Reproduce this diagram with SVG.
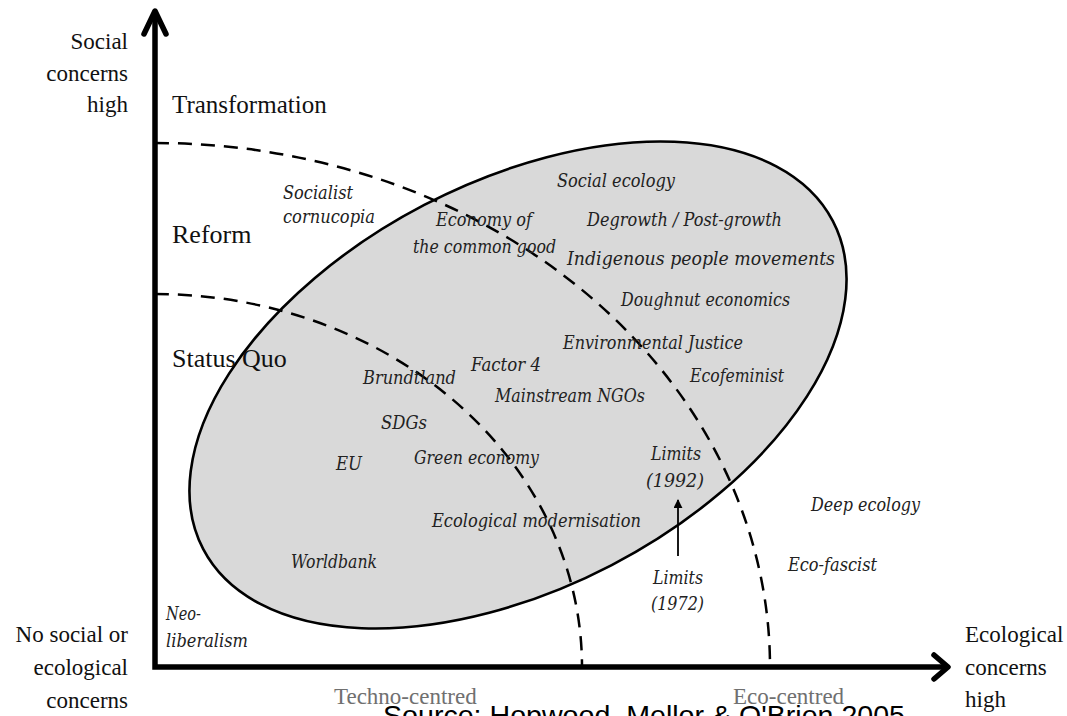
<svg xmlns="http://www.w3.org/2000/svg" width="1067" height="716" viewBox="0 0 1067 716">
<style>
.ax{fill:none;stroke:#000;stroke-width:5.5;stroke-linecap:butt}
.ah{fill:none;stroke:#000;stroke-width:5.5;stroke-linecap:round;stroke-linejoin:round}
.dash{fill:none;stroke:#000;stroke-width:2.5;stroke-dasharray:14 9}
.reg{font-family:"Liberation Serif","Times New Roman",serif;fill:#111}
.it{font-family:"DejaVu Serif","Liberation Serif",serif;font-style:italic;font-size:18px;fill:#222}
.gray{font-family:"Liberation Serif","Times New Roman",serif;font-size:23px;fill:#707070}
</style>
<defs>
<marker id="tri" viewBox="0 0 10 10" refX="9" refY="5" markerWidth="9" markerHeight="9" markerUnits="userSpaceOnUse" orient="auto">
<path d="M0,0 L10,5 L0,10 z" fill="#000"/>
</marker>
</defs>
<rect width="1067" height="716" fill="#fff"/>

<g id="ellipse">
<ellipse cx="518" cy="385" rx="355" ry="203" transform="rotate(-27.5 518 385)" fill="#d9d9d9" stroke="#000" stroke-width="2.6"/>
</g>

<g id="connectors">
<path class="dash" d="M155,143 A615,524 0 0 1 770,667"/>
<path class="dash" d="M155,294 A427,373 0 0 1 582,667"/>
<path class="ax" d="M155,14 V667 H946"/>
<path class="ah" d="M144,34 L155,11 L166,34"/>
<path class="ah" d="M934,655 L948,667 L934,679"/>
<line x1="678" y1="556" x2="678" y2="500" stroke="#000" stroke-width="1.8" marker-end="url(#tri)"/>
</g>

<g id="axis-labels">
<text class="reg" font-size="23" text-anchor="end" x="128" y="49">Social</text>
<text class="reg" font-size="23" text-anchor="end" x="128" y="81">concerns</text>
<text class="reg" font-size="23" text-anchor="end" x="128" y="112">high</text>
<text class="reg" font-size="23" text-anchor="end" x="128" y="642">No social or</text>
<text class="reg" font-size="23" text-anchor="end" x="128" y="675">ecological</text>
<text class="reg" font-size="23" text-anchor="end" x="128" y="708">concerns</text>
<text class="reg" font-size="23" x="965" y="642">Ecological</text>
<text class="reg" font-size="23" x="965" y="675">concerns</text>
<text class="reg" font-size="23" x="965" y="707">high</text>
<text class="gray" x="334" y="704">Techno-centred</text>
<text class="gray" x="733" y="704">Eco-centred</text>
</g>

<g id="zones">
<text class="reg" font-size="25" x="172" y="113">Transformation</text>
<text class="reg" font-size="26" x="172" y="243">Reform</text>
<text class="reg" font-size="26" x="172" y="367">Status Quo</text>
</g>

<g id="positions">
<text class="it" x="283" y="199" textLength="70" lengthAdjust="spacingAndGlyphs">Socialist</text>
<text class="it" x="283" y="223" textLength="92" lengthAdjust="spacingAndGlyphs">cornucopia</text>
<text class="it" x="557" y="187" textLength="118" lengthAdjust="spacingAndGlyphs">Social ecology</text>
<text class="it" x="436" y="226" textLength="96" lengthAdjust="spacingAndGlyphs">Economy of</text>
<text class="it" x="413" y="253" textLength="143" lengthAdjust="spacingAndGlyphs">the common good</text>
<text class="it" x="587" y="226" textLength="195" lengthAdjust="spacingAndGlyphs">Degrowth / Post-growth</text>
<text class="it" x="567" y="265" textLength="268" lengthAdjust="spacingAndGlyphs">Indigenous people movements</text>
<text class="it" x="621" y="306" textLength="169" lengthAdjust="spacingAndGlyphs">Doughnut economics</text>
<text class="it" x="563" y="349" textLength="180" lengthAdjust="spacingAndGlyphs">Environmental Justice</text>
<text class="it" x="690" y="382" textLength="94" lengthAdjust="spacingAndGlyphs">Ecofeminist</text>
<text class="it" x="471" y="371" textLength="70" lengthAdjust="spacingAndGlyphs">Factor 4</text>
<text class="it" x="363" y="384" textLength="93" lengthAdjust="spacingAndGlyphs">Brundtland</text>
<text class="it" x="495" y="402" textLength="150" lengthAdjust="spacingAndGlyphs">Mainstream NGOs</text>
<text class="it" x="381" y="429" textLength="46" lengthAdjust="spacingAndGlyphs">SDGs</text>
<text class="it" x="336" y="470" textLength="26" lengthAdjust="spacingAndGlyphs">EU</text>
<text class="it" x="414" y="464" textLength="125" lengthAdjust="spacingAndGlyphs">Green economy</text>
<text class="it" x="651" y="460" textLength="50" lengthAdjust="spacingAndGlyphs">Limits</text>
<text class="it" x="646" y="487" textLength="58" lengthAdjust="spacingAndGlyphs">(1992)</text>
<text class="it" x="432" y="527" textLength="209" lengthAdjust="spacingAndGlyphs">Ecological modernisation</text>
<text class="it" x="811" y="511" textLength="109" lengthAdjust="spacingAndGlyphs">Deep ecology</text>
<text class="it" x="788" y="571" textLength="89" lengthAdjust="spacingAndGlyphs">Eco-fascist</text>
<text class="it" x="653" y="584" textLength="50" lengthAdjust="spacingAndGlyphs">Limits</text>
<text class="it" x="651" y="610" textLength="53" lengthAdjust="spacingAndGlyphs">(1972)</text>
<text class="it" x="291" y="568" textLength="86" lengthAdjust="spacingAndGlyphs">Worldbank</text>
<text class="it" x="166" y="620" textLength="35" lengthAdjust="spacingAndGlyphs">Neo-</text>
<text class="it" x="166" y="647" textLength="82" lengthAdjust="spacingAndGlyphs">liberalism</text>
</g>

<g id="source">
<text x="383" y="725" font-family="Liberation Sans, Arial, sans-serif" font-size="28.5" fill="#000" textLength="522" lengthAdjust="spacingAndGlyphs">Source: Hopwood, Mellor &amp; O'Brien 2005</text>
</g>
</svg>
